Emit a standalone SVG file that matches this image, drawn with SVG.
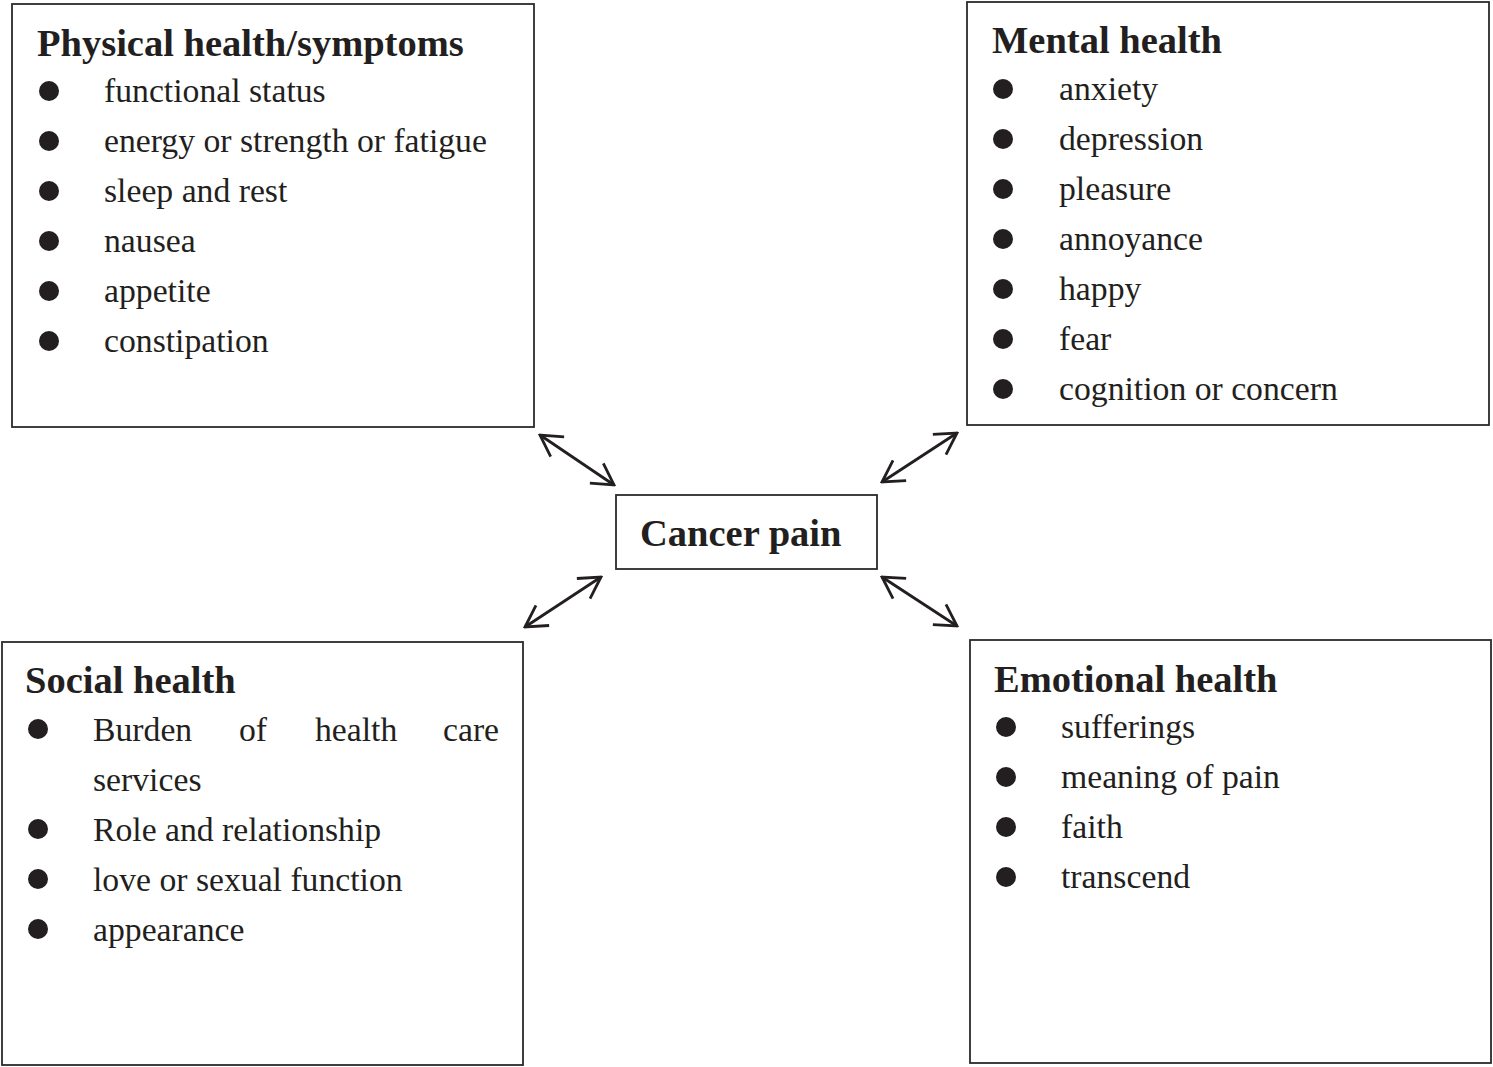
<svg xmlns="http://www.w3.org/2000/svg" width="1493" height="1067" viewBox="0 0 1493 1067">
<defs>
<style>
.box{fill:#fff;stroke:#2b2b2b;stroke-width:1.8}
.title{font-family:"Liberation Serif","Times New Roman",serif;font-weight:bold;font-size:38.5px;fill:#231f20}
.item{font-family:"Liberation Serif","Times New Roman",serif;font-size:33.7px;fill:#231f20}
.dot{fill:#231f20}
.conn{stroke:#231f20;stroke-width:2.8;fill:none}
</style>
<marker id="ah" viewBox="-26 -15 28 30" markerWidth="28" markerHeight="30" refX="0" refY="0" markerUnits="userSpaceOnUse" orient="auto-start-reverse">
<path d="M-21,-12 L0,0 L-21,12" fill="none" stroke="#231f20" stroke-width="2.8" stroke-linejoin="miter"/>
</marker>
</defs>
<rect width="1493" height="1067" fill="#fff"/>

<g id="physical">
<rect class="box" x="12" y="4" width="522" height="423"/>
<text class="title" x="37" y="56">Physical health/symptoms</text>
<circle class="dot" cx="49" cy="91" r="10"/><text class="item" x="104" y="102">functional status</text>
<circle class="dot" cx="49" cy="141" r="10"/><text class="item" x="104" y="152">energy or strength or fatigue</text>
<circle class="dot" cx="49" cy="191" r="10"/><text class="item" x="104" y="202">sleep and rest</text>
<circle class="dot" cx="49" cy="241" r="10"/><text class="item" x="104" y="252">nausea</text>
<circle class="dot" cx="49" cy="291" r="10"/><text class="item" x="104" y="302">appetite</text>
<circle class="dot" cx="49" cy="341" r="10"/><text class="item" x="104" y="352">constipation</text>
</g>

<g id="mental">
<rect class="box" x="967" y="2" width="522" height="423"/>
<text class="title" x="992" y="53">Mental health</text>
<circle class="dot" cx="1003" cy="89" r="10"/><text class="item" x="1059" y="100">anxiety</text>
<circle class="dot" cx="1003" cy="139" r="10"/><text class="item" x="1059" y="150">depression</text>
<circle class="dot" cx="1003" cy="189" r="10"/><text class="item" x="1059" y="200">pleasure</text>
<circle class="dot" cx="1003" cy="239" r="10"/><text class="item" x="1059" y="250">annoyance</text>
<circle class="dot" cx="1003" cy="289" r="10"/><text class="item" x="1059" y="300">happy</text>
<circle class="dot" cx="1003" cy="339" r="10"/><text class="item" x="1059" y="350">fear</text>
<circle class="dot" cx="1003" cy="389" r="10"/><text class="item" x="1059" y="400">cognition or concern</text>
</g>

<g id="cancer-pain">
<rect class="box" x="616" y="495" width="261" height="74"/>
<text class="title" x="640" y="546">Cancer pain</text>
</g>

<g id="social">
<rect class="box" x="2" y="642" width="521" height="423"/>
<text class="title" x="25" y="693">Social health</text>
<circle class="dot" cx="38" cy="729" r="10"/>
<text class="item" x="93" y="741">Burden</text>
<text class="item" x="239" y="741">of</text>
<text class="item" x="315" y="741">health</text>
<text class="item" x="443" y="741">care</text>
<text class="item" x="93" y="791">services</text>
<circle class="dot" cx="38" cy="829" r="10"/><text class="item" x="93" y="841">Role and relationship</text>
<circle class="dot" cx="38" cy="879" r="10"/><text class="item" x="93" y="891">love or sexual function</text>
<circle class="dot" cx="38" cy="929" r="10"/><text class="item" x="93" y="941">appearance</text>
</g>

<g id="emotional">
<rect class="box" x="970" y="640" width="521" height="423"/>
<text class="title" x="994" y="692">Emotional health</text>
<circle class="dot" cx="1006" cy="727" r="10"/><text class="item" x="1061" y="738">sufferings</text>
<circle class="dot" cx="1006" cy="777" r="10"/><text class="item" x="1061" y="788">meaning of pain</text>
<circle class="dot" cx="1006" cy="827" r="10"/><text class="item" x="1061" y="838">faith</text>
<circle class="dot" cx="1006" cy="877" r="10"/><text class="item" x="1061" y="888">transcend</text>
</g>

<g id="connectors">
<line class="conn" x1="540" y1="435" x2="614" y2="485" marker-start="url(#ah)" marker-end="url(#ah)"/>
<line class="conn" x1="957" y1="433" x2="882" y2="482" marker-start="url(#ah)" marker-end="url(#ah)"/>
<line class="conn" x1="601" y1="577" x2="525" y2="627" marker-start="url(#ah)" marker-end="url(#ah)"/>
<line class="conn" x1="882" y1="577" x2="957" y2="626" marker-start="url(#ah)" marker-end="url(#ah)"/>
</g>
</svg>
